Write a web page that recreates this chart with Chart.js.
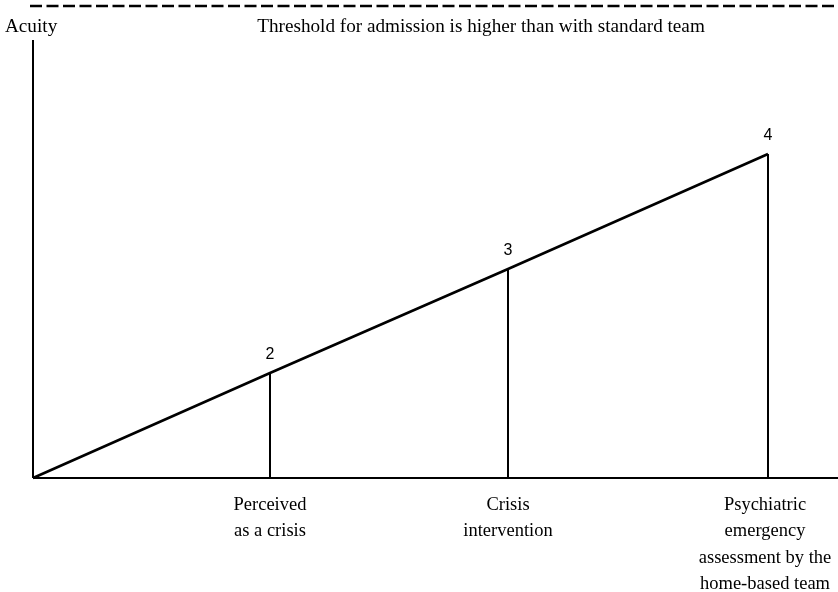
<!DOCTYPE html>
<html>
<head>
<meta charset="utf-8">
<script src="https://cdn.jsdelivr.net/npm/chart.js@4"></script>
<style>
    body { margin: 0; background: #fff; }
    #wrap { width: 838px; height: 592px; }
</style>
</head>
<body>
<div id="wrap"><canvas id="myChart" width="838" height="592"></canvas></div>
<script>
// stages along the pathway (x) and acuity reached at each (y)
let stageX = [237, 475, 735];
let acuity = [105, 209, 324];
let stageNumbers = ['2', '3', '4'];
let stageLabels = [
    ['Perceived', 'as a crisis'],
    ['Crisis', 'intervention'],
    ['Psychiatric', 'emergency', 'assessment by the', 'home-based team']
];
let thresholdLevel = 472;
let axisTop = 438;
let axisEnd = 805;
let yTitle = 'Acuity';
let thresholdText = 'Threshold for admission is higher than with standard team';

let rise = [{ x: 0, y: 0 }];
stageX.forEach((x, i) => rise.push({ x: x, y: acuity[i] }));

let drops = [];
stageX.forEach((x, i) => {
    drops.push({ x: x, y: 0 }, { x: x, y: acuity[i] }, { x: x, y: null });
});

let lineSet = (data, width, dash) => ({
    data: data,
    showLine: true,
    borderColor: '#000',
    borderWidth: width,
    borderDash: dash || [],
    pointRadius: 0,
    fill: false,
    clip: false,
    spanGaps: false
});

let textPlugin = {
    id: 'texts',
    afterDraw: (chart) => {
        let ctx = chart.ctx;
        let xs = chart.scales.x, ys = chart.scales.y;
        ctx.save();
        ctx.fillStyle = '#000';
        ctx.textBaseline = 'middle';

        // step numbers above each point
        ctx.font = '16px "Liberation Sans", Arial, sans-serif';
        ctx.textAlign = 'center';
        stageX.forEach((x, i) => {
            ctx.fillText(stageNumbers[i], xs.getPixelForValue(x), ys.getPixelForValue(acuity[i]) - 18);
        });

        // stage names under the axis
        ctx.font = '18.5px "Liberation Serif", "Times New Roman", serif';
        stageX.forEach((x, i) => {
            stageLabels[i].forEach((line, j) => {
                ctx.fillText(line, xs.getPixelForValue(x) - (i == 2 ? 3 : 0), ys.getPixelForValue(0) + 27 + j * 26.5);
            });
        });

        // top texts
        ctx.font = '19.2px "Liberation Serif", "Times New Roman", serif';
        ctx.textAlign = 'left';
        ctx.fillText(yTitle, 5, 27);
        ctx.textAlign = 'center';
        ctx.fillText(thresholdText, 481, 27);
        ctx.restore();
    }
};

let diagramma = document.getElementById('myChart').getContext('2d');
let myChart = new Chart(diagramma, {
    type: 'scatter',
    data: {
        datasets: [
            lineSet([{ x: 0, y: 0 }, { x: 0, y: axisTop }], 2),
            lineSet([{ x: 0, y: 0 }, { x: axisEnd, y: 0 }], 2),
            lineSet(drops, 2),
            lineSet(rise, 2.6),
            lineSet([{ x: -3, y: thresholdLevel }, { x: axisEnd, y: thresholdLevel }], 2.5, [12, 4.5])
        ]
    },
    options: {
        responsive: false,
        animation: false,
        layout: {
            padding: { left: 30, right: 0, top: 6, bottom: 114 }
        },
        plugins: {
            legend: false,
            tooltip: { enabled: false }
        },
        scales: {
            x: { type: 'linear', min: -3, max: axisEnd, display: false },
            y: { type: 'linear', min: 0, max: thresholdLevel, display: false }
        }
    },
    plugins: [textPlugin]
});
</script>
</body>
</html>
